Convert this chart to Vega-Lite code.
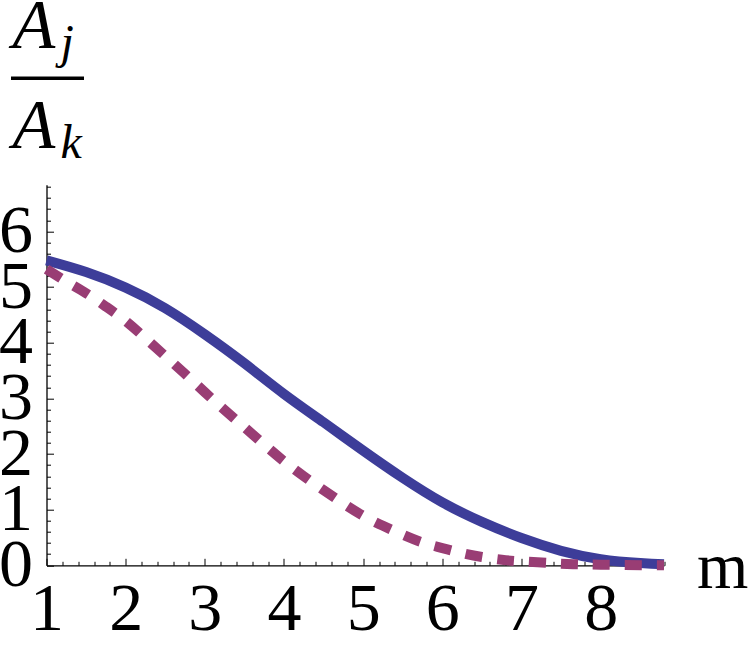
{
  "$schema": "https://vega.github.io/schema/vega-lite/v6.json",
  "width": 617.5,
  "height": 380.6,
  "autosize": "none",
  "padding": {"left": 46.5, "top": 184.7, "right": 86, "bottom": 90.7},
  "background": "white",
  "config": {"view": {"stroke": null}},
  "datasets": {
    "solid": [
      {"m": 1.0, "v": 5.48}, {"m": 1.5, "v": 5.27}, {"m": 2.0, "v": 4.99}, {"m": 2.5, "v": 4.62},
      {"m": 3.0, "v": 4.15}, {"m": 3.5, "v": 3.63}, {"m": 4.0, "v": 3.08}, {"m": 4.5, "v": 2.57},
      {"m": 5.0, "v": 2.06}, {"m": 5.5, "v": 1.57}, {"m": 6.0, "v": 1.13}, {"m": 6.5, "v": 0.78},
      {"m": 7.0, "v": 0.49}, {"m": 7.5, "v": 0.26}, {"m": 8.0, "v": 0.11}, {"m": 8.5, "v": 0.04},
      {"m": 8.8, "v": 0.02}
    ],
    "dashed": [
      {"m": 1.0, "v": 5.32}, {"m": 1.25, "v": 5.10}, {"m": 1.5, "v": 4.89}, {"m": 1.75, "v": 4.65},
      {"m": 2.0, "v": 4.39}, {"m": 2.25, "v": 4.08}, {"m": 2.5, "v": 3.76}, {"m": 2.75, "v": 3.44},
      {"m": 3.0, "v": 3.11}, {"m": 3.25, "v": 2.79}, {"m": 3.5, "v": 2.48}, {"m": 3.75, "v": 2.17},
      {"m": 4.0, "v": 1.87}, {"m": 4.25, "v": 1.60}, {"m": 4.5, "v": 1.35}, {"m": 4.75, "v": 1.11},
      {"m": 5.0, "v": 0.89}, {"m": 5.25, "v": 0.71}, {"m": 5.5, "v": 0.55}, {"m": 5.75, "v": 0.41},
      {"m": 6.0, "v": 0.31}, {"m": 6.25, "v": 0.22}, {"m": 6.5, "v": 0.15}, {"m": 6.75, "v": 0.10},
      {"m": 7.0, "v": 0.07}, {"m": 7.5, "v": 0.03}, {"m": 8.0, "v": 0.01}, {"m": 8.8, "v": 0.0}
    ]
  },
  "layer": [
    {
      "data": {"name": "solid"},
      "mark": {"type": "line", "color": "#3D3D99", "strokeWidth": 10, "interpolate": "natural", "clip": false},
      "encoding": {
        "x": {
          "field": "m", "type": "quantitative",
          "scale": {"domain": [1, 8.8], "nice": false, "zero": false},
          "axis": {
            "values": [1, 1.2, 1.4, 1.6, 1.8, 2, 2.2, 2.4, 2.6, 2.8, 3, 3.2, 3.4, 3.6, 3.8, 4, 4.2, 4.4, 4.6, 4.8, 5, 5.2, 5.4, 5.6, 5.8, 6, 6.2, 6.4, 6.6, 6.8, 7, 7.2, 7.4, 7.6, 7.8, 8, 8.2, 8.4, 8.6, 8.8],
            "labelExpr": "datum.value % 1 === 0 ? format(datum.value, 'd') : ''",
            "grid": false,
            "domainColor": "black", "domainWidth": 1.3,
            "tickColor": "black", "tickWidth": 1,
            "tickSize": {"condition": {"test": "datum.value % 1 === 0", "value": -7}, "value": -4},
            "labelFont": "Liberation Serif", "labelFontSize": 68, "labelColor": "black",
            "labelPadding": 17, "labelFlush": false, "labelOverlap": false, "labelBound": false,
            "title": "m", "titleFont": "Liberation Serif", "titleFontSize": 66, "titleFontWeight": "normal", "titleColor": "black",
            "titleAlign": "left", "titleBaseline": "alphabetic", "titleX": 650, "titleY": 21.7, "titleAnchor": null
          }
        },
        "y": {
          "field": "v", "type": "quantitative",
          "scale": {"domain": [0, 6.84], "nice": false, "zero": false},
          "axis": {
            "values": [0, 0.2, 0.4, 0.6, 0.8, 1, 1.2, 1.4, 1.6, 1.8, 2, 2.2, 2.4, 2.6, 2.8, 3, 3.2, 3.4, 3.6, 3.8, 4, 4.2, 4.4, 4.6, 4.8, 5, 5.2, 5.4, 5.6, 5.8, 6, 6.2, 6.4, 6.6, 6.8],
            "labelExpr": "datum.value % 1 === 0 ? format(datum.value, 'd') : ''",
            "grid": false,
            "domainColor": "black", "domainWidth": 1.3,
            "tickColor": "black", "tickWidth": 1,
            "tickSize": {"condition": {"test": "datum.value % 1 === 0", "value": -7}, "value": -4},
            "labelFont": "Liberation Serif", "labelFontSize": 68, "labelColor": "black",
            "labelPadding": 21, "labelFlush": false, "labelOverlap": false, "labelBound": false, "labelBaseline": "middle",
            "title": ["A", "A"], "titleFont": "Liberation Serif", "titleFontSize": 70, "titleFontStyle": "italic", "titleFontWeight": "normal", "titleColor": "black",
            "titleLineHeight": 100, "titleAngle": 0, "titleAlign": "left", "titleBaseline": "alphabetic",
            "titleX": -34.5, "titleY": -137.7
          }
        }
      }
    },
    {
      "data": {"name": "dashed"},
      "mark": {"type": "line", "color": "#993D74", "strokeWidth": 10, "strokeDash": [17, 15], "interpolate": "natural", "clip": false},
      "encoding": {
        "x": {
          "field": "m", "type": "quantitative",
          "axis": {
            "orient": "top", "labels": false, "ticks": false, "domain": false, "grid": false,
            "title": "—", "titleFont": "Liberation Serif", "titleFontSize": 72, "titleFontWeight": "normal", "titleColor": "black",
            "titleAlign": "left", "titleBaseline": "alphabetic", "titleAngle": 0,
            "titleX": -35.5, "titleY": -90.7, "titleAnchor": null
          }
        },
        "y": {
          "field": "v", "type": "quantitative",
          "axis": {
            "orient": "right", "labels": false, "ticks": false, "domain": false, "grid": false,
            "title": ["j", "k"], "titleFont": "Liberation Serif", "titleFontSize": 48, "titleFontStyle": "italic", "titleFontWeight": "normal", "titleColor": "black",
            "titleLineHeight": 100, "titleAngle": 0, "titleAlign": "left", "titleBaseline": "alphabetic",
            "titleX": -604, "titleY": -127.7
          }
        }
      }
    }
  ],
  "resolve": {"axis": {"x": "independent", "y": "independent"}}
}
